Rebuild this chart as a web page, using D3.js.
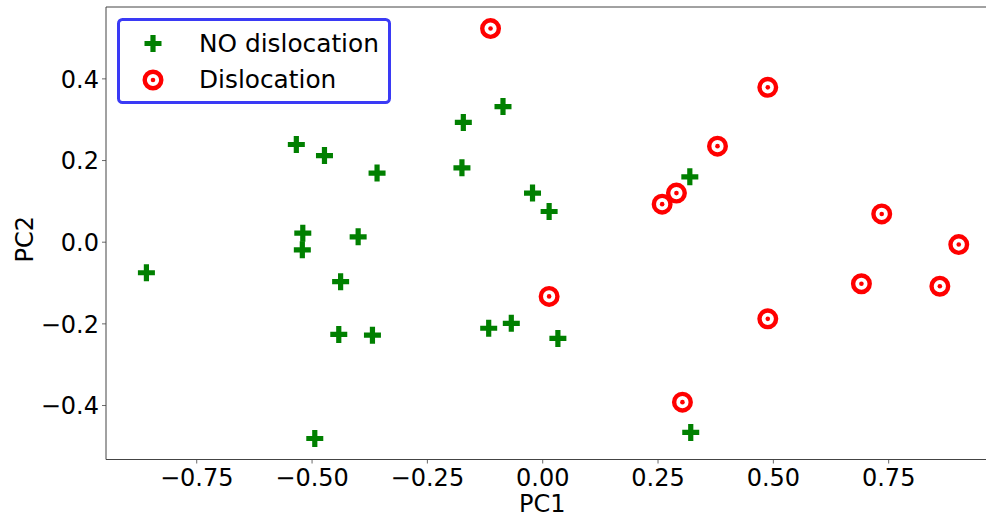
<!DOCTYPE html>
<html>
<head>
<meta charset="utf-8">
<script src="https://cdn.jsdelivr.net/npm/d3@7"></script>
<style>
html,body{margin:0;padding:0;background:#fff;}
svg text{font-family:"DejaVu Sans",sans-serif;}
</style>
</head>
<body>
<svg id="chart" width="986" height="520"></svg>
<script>
// Data
const noDislocationX = [-0.858,-0.533,-0.472,-0.358,-0.171,-0.085,-0.174,-0.021,0.015,-0.519,-0.520,-0.399,-0.437,-0.441,-0.368,-0.116,-0.067,0.034,-0.493,0.320,0.322];
const noDislocationY = [-0.076,0.238,0.211,0.168,0.292,0.331,0.181,0.119,0.074,0.021,-0.020,0.012,-0.098,-0.227,-0.229,-0.212,-0.200,-0.237,-0.482,0.159,-0.467];
const dislocationX = [-0.112,0.489,0.380,0.291,0.260,0.736,0.903,0.692,0.862,0.489,0.304,0.015];
const dislocationY = [0.522,0.378,0.234,0.119,0.092,0.068,-0.007,-0.103,-0.109,-0.189,-0.393,-0.134];
const xTicks = [-0.75,-0.5,-0.25,0,0.25,0.5,0.75];
const yTicks = [-0.4,-0.2,0,0.2,0.4];
const legendLabels = ["NO dislocation","Dislocation"];
const xLabel = "PC1", yLabel = "PC2";

(function(){
const svg = d3.select("#chart");
const pLeft = 106, pTop = 7, pBottom = 459.5;
const xDomain = [-0.9456, 0.9914];
const x = d3.scaleLinear().domain(xDomain).range([pLeft, pLeft + (xDomain[1]-xDomain[0])*461.3]);
const y = d3.scaleLinear().domain([-0.5334, 0.5748]).range([pBottom, pTop]);
const pRight = x(xDomain[1]);

const axisColor = "#444";
// x axis
const gx = svg.append("g").attr("transform", `translate(0,${pBottom})`)
  .call(d3.axisBottom(x).tickValues(xTicks).tickFormat(d3.format(".2f")).tickSize(4).tickSizeOuter(0));
gx.select(".domain").remove();
gx.selectAll(".tick line").attr("stroke", axisColor).attr("stroke-width", 0.8);
gx.selectAll(".tick text").attr("font-size", 24).attr("fill", "#000").attr("y", 0).attr("dy", 0)
  .attr("transform", "translate(0,26)");

// y axis
const gy = svg.append("g").attr("transform", `translate(${pLeft},0)`)
  .call(d3.axisLeft(y).tickValues(yTicks).tickFormat(d3.format(".1f")).tickSize(4).tickSizeOuter(0));
gy.select(".domain").remove();
gy.selectAll(".tick line").attr("stroke", axisColor).attr("stroke-width", 0.8);
gy.selectAll(".tick text").attr("font-size", 24).attr("fill", "#000").attr("x", -7).attr("dy", "0.36em");

// spines
svg.append("line").attr("x1", pLeft).attr("x2", pLeft).attr("y1", pTop).attr("y2", pBottom).attr("stroke", axisColor).attr("stroke-width", 1);
svg.append("line").attr("x1", pLeft).attr("x2", pRight).attr("y1", pBottom).attr("y2", pBottom).attr("stroke", axisColor).attr("stroke-width", 1);
svg.append("line").attr("x1", pLeft).attr("x2", pRight).attr("y1", pTop).attr("y2", pTop).attr("stroke", axisColor).attr("stroke-width", 1);

// axis labels
svg.append("text").attr("x", x(0)).attr("y", 512).attr("text-anchor", "middle").attr("font-size", 24).text(xLabel);
svg.append("text").attr("transform", `translate(33,${(pTop+pBottom)/2 + 6}) rotate(-90)`).attr("text-anchor", "middle").attr("font-size", 24).text(yLabel);

// markers
const green = "#008000", red = "#ff0000";
function plus(g, cx, cy) {
  const s = 8.5;
  g.append("path").attr("d", `M${cx-s},${cy}H${cx+s}M${cx},${cy-s}V${cy+s}`)
    .attr("stroke", green).attr("stroke-width", 5.2).attr("fill", "none");
}
function target(g, cx, cy) {
  g.append("circle").attr("cx", cx).attr("cy", cy).attr("r", 8.3)
    .attr("fill", "#fff").attr("stroke", red).attr("stroke-width", 4.4);
  g.append("circle").attr("cx", cx).attr("cy", cy).attr("r", 2.3).attr("fill", red);
}
const pts = svg.append("g");
const greenG = pts.append("g");
noDislocationX.forEach((v, i) => plus(greenG, x(v), y(noDislocationY[i])));
const redG = pts.append("g");
dislocationX.forEach((v, i) => target(redG, x(v), y(dislocationY[i])));

// legend
const lg = svg.append("g");
lg.append("rect").attr("x", 118.5).attr("y", 19.5).attr("width", 271).attr("height", 83)
  .attr("rx", 4).attr("fill", "#fff").attr("stroke", "#3a3af5").attr("stroke-width", 3);
plus(lg, 153, 43.5);
target(lg, 153, 80);
lg.append("text").attr("x", 199).attr("y", 51.8).attr("font-size", 24.8).text(legendLabels[0]);
lg.append("text").attr("x", 199).attr("y", 88.3).attr("font-size", 24.8).text(legendLabels[1]);
})();
</script>
</body>
</html>
